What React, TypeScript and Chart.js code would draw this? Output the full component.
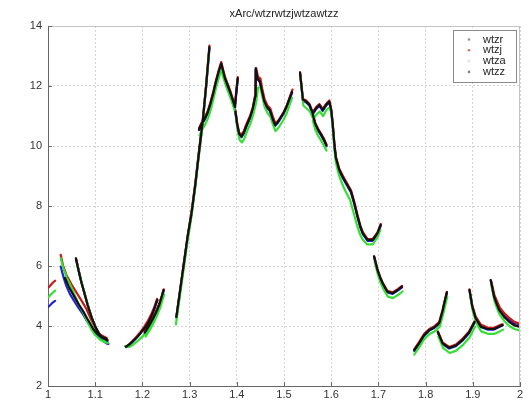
import React, { useEffect, useRef } from "react";
import { Chart, registerables } from "chart.js";

Chart.register(...registerables);

type Pt = [number, number];

const chartTitle = "xArc/wtzrwtzjwtzawtzz";
const seriesNames = ["wtzr", "wtzj", "wtza", "wtzz"];
const seriesColors = ["#2222d6", "#c81818", "#33e033", "#111111"];
const legendDotColors = ["#8a8ab0", "#d07070", "#d8e0d8", "#808080"];
const xTickValues = [1, 1.1, 1.2, 1.3, 1.4, 1.5, 1.6, 1.7, 1.8, 1.9, 2];
const yTickValues = [2, 4, 6, 8, 10, 12, 14];

const wtzzSegments: Pt[][] = [
  [[1.036, 5.6], [1.045, 5.28], [1.054, 5.03], [1.064, 4.75], [1.075, 4.48], [1.083, 4.25], [1.089, 4.09], [1.096, 3.9], [1.103, 3.76], [1.113, 3.64], [1.124, 3.58]],
  [[1.059, 6.26], [1.064, 5.9], [1.07, 5.5], [1.077, 5.1], [1.084, 4.7], [1.092, 4.3], [1.1, 3.98], [1.108, 3.75], [1.116, 3.6], [1.126, 3.52]],
  [[1.165, 3.31], [1.172, 3.38], [1.18, 3.5], [1.19, 3.65], [1.2, 3.84], [1.208, 4.0], [1.216, 4.22], [1.223, 4.48], [1.229, 4.75], [1.232, 4.87]],
  [[1.205, 3.78], [1.213, 3.98], [1.221, 4.2], [1.229, 4.45], [1.236, 4.72], [1.241, 4.98], [1.245, 5.2]],
  [[1.272, 4.3], [1.28, 5.2], [1.288, 6.1], [1.296, 7.0], [1.304, 7.75], [1.312, 8.7], [1.32, 9.8], [1.328, 10.85], [1.335, 12.0], [1.342, 13.3]],
  [[1.32, 10.55], [1.326, 10.75], [1.332, 10.9], [1.338, 11.1], [1.344, 11.4], [1.35, 11.75], [1.356, 12.15], [1.362, 12.5], [1.367, 12.75], [1.371, 12.5], [1.375, 12.25], [1.381, 12.0], [1.387, 11.75], [1.392, 11.5], [1.396, 11.3], [1.399, 11.8], [1.402, 12.26]],
  [[1.397, 11.15], [1.401, 10.7], [1.405, 10.4], [1.41, 10.32], [1.415, 10.45], [1.421, 10.7], [1.428, 10.95], [1.434, 11.25], [1.439, 11.65], [1.44, 12.59], [1.444, 12.25], [1.449, 12.15], [1.453, 11.85], [1.458, 11.5], [1.464, 11.3], [1.47, 11.2], [1.476, 10.9], [1.481, 10.7], [1.487, 10.8], [1.493, 10.95], [1.499, 11.1], [1.505, 11.3], [1.511, 11.55], [1.517, 11.8]],
  [[1.534, 12.44], [1.537, 12.0], [1.54, 11.55], [1.547, 11.48], [1.554, 11.37], [1.561, 11.09], [1.568, 11.26], [1.575, 11.37], [1.582, 11.2], [1.589, 11.37], [1.596, 11.48], [1.6, 11.2], [1.603, 10.76], [1.607, 10.0], [1.61, 9.6], [1.617, 9.2], [1.625, 8.95], [1.632, 8.76], [1.642, 8.48], [1.649, 8.09], [1.656, 7.64], [1.662, 7.3], [1.667, 7.09], [1.677, 6.87], [1.688, 6.87], [1.698, 7.09], [1.705, 7.37]],
  [[1.561, 11.05], [1.566, 10.75], [1.572, 10.55], [1.579, 10.37], [1.585, 10.2], [1.59, 10.02]],
  [[1.691, 6.31], [1.698, 5.87], [1.704, 5.6], [1.709, 5.42], [1.719, 5.14], [1.73, 5.09], [1.741, 5.2], [1.75, 5.31]],
  [[1.776, 3.2], [1.786, 3.42], [1.797, 3.7], [1.808, 3.87], [1.818, 3.95], [1.829, 4.1], [1.836, 4.5], [1.841, 4.85], [1.845, 5.12]],
  [[1.826, 3.8], [1.836, 3.42], [1.85, 3.27], [1.864, 3.35], [1.878, 3.53], [1.892, 3.78], [1.904, 4.14]],
  [[1.893, 5.2], [1.899, 4.64], [1.906, 4.26], [1.917, 3.98], [1.931, 3.9], [1.945, 3.9], [1.956, 3.98], [1.963, 4.03]],
  [[1.938, 5.53], [1.945, 4.98], [1.951, 4.72], [1.956, 4.53], [1.966, 4.31], [1.977, 4.14], [1.987, 4.03], [1.998, 3.98]],
];

const wtzaSegments: Pt[][] = [
  [[1.001, 4.96], [1.005, 5.03], [1.01, 5.11], [1.015, 5.18]],
  [[1.027, 6.26], [1.033, 5.9], [1.04, 5.6], [1.047, 5.38], [1.056, 5.05], [1.066, 4.7], [1.076, 4.4], [1.085, 4.1], [1.092, 3.88], [1.1, 3.7], [1.11, 3.55], [1.12, 3.46], [1.127, 3.44]],
  [[1.061, 6.1], [1.067, 5.7], [1.074, 5.3], [1.081, 4.9], [1.088, 4.5], [1.095, 4.15], [1.103, 3.88], [1.112, 3.66], [1.121, 3.52]],
  [[1.163, 3.33], [1.172, 3.3], [1.182, 3.4], [1.192, 3.53], [1.202, 3.68], [1.212, 3.85], [1.22, 4.05], [1.228, 4.3], [1.233, 4.6]],
  [[1.207, 3.65], [1.215, 3.85], [1.223, 4.08], [1.231, 4.35], [1.238, 4.62], [1.243, 4.9], [1.246, 5.05]],
  [[1.271, 4.05], [1.279, 4.95], [1.287, 5.85], [1.295, 6.75], [1.303, 7.55], [1.311, 8.5], [1.319, 9.6], [1.327, 10.6], [1.334, 11.8], [1.341, 13.1]],
  [[1.321, 10.35], [1.327, 10.55], [1.333, 10.72], [1.339, 10.92], [1.345, 11.22], [1.351, 11.6], [1.357, 12.0], [1.363, 12.32], [1.367, 12.55], [1.371, 12.3], [1.376, 12.05], [1.382, 11.8], [1.388, 11.55], [1.393, 11.3], [1.397, 11.1]],
  [[1.398, 10.95], [1.402, 10.5], [1.406, 10.2], [1.411, 10.12], [1.416, 10.25], [1.422, 10.5], [1.429, 10.75], [1.435, 11.05], [1.441, 11.45], [1.445, 11.95], [1.45, 11.95], [1.454, 11.65], [1.459, 11.3], [1.465, 11.1], [1.471, 10.98], [1.477, 10.7], [1.482, 10.5], [1.488, 10.6], [1.494, 10.75], [1.5, 10.9], [1.506, 11.1], [1.512, 11.38], [1.517, 11.6]],
  [[1.535, 12.3], [1.538, 11.85], [1.541, 11.35], [1.548, 11.25], [1.555, 11.15], [1.562, 10.9], [1.569, 11.05], [1.576, 11.15], [1.583, 11.0], [1.59, 11.2], [1.597, 11.3], [1.601, 11.0], [1.604, 10.5], [1.607, 9.85], [1.61, 9.45], [1.616, 9.05], [1.623, 8.75], [1.63, 8.5], [1.64, 8.2], [1.647, 7.8], [1.654, 7.4], [1.66, 7.1], [1.666, 6.9], [1.676, 6.72], [1.688, 6.72], [1.698, 6.95], [1.704, 7.2]],
  [[1.561, 10.85], [1.566, 10.55], [1.572, 10.35], [1.579, 10.17], [1.585, 10.0], [1.59, 9.85]],
  [[1.692, 6.15], [1.699, 5.7], [1.705, 5.42], [1.71, 5.25], [1.72, 4.98], [1.731, 4.93], [1.742, 5.04], [1.751, 5.15]],
  [[1.776, 3.05], [1.786, 3.28], [1.797, 3.56], [1.808, 3.73], [1.819, 3.82], [1.83, 3.98], [1.837, 4.38], [1.842, 4.72], [1.846, 4.98]],
  [[1.827, 3.65], [1.837, 3.27], [1.851, 3.1], [1.865, 3.18], [1.879, 3.37], [1.893, 3.62], [1.905, 3.98]],
  [[1.894, 5.05], [1.9, 4.5], [1.907, 4.1], [1.918, 3.82], [1.932, 3.74], [1.946, 3.74], [1.957, 3.82], [1.964, 3.88]],
  [[1.939, 5.38], [1.946, 4.82], [1.952, 4.56], [1.957, 4.38], [1.967, 4.16], [1.978, 3.99], [1.988, 3.9], [1.998, 3.86]],
];

const wtzjSegments: Pt[][] = [
  [[1.001, 5.28], [1.005, 5.35], [1.01, 5.44], [1.015, 5.51]],
  [[1.027, 6.37], [1.032, 6.0], [1.039, 5.7], [1.05, 5.38], [1.061, 5.1], [1.072, 4.82], [1.082, 4.55], [1.091, 4.22], [1.099, 3.98], [1.11, 3.72], [1.124, 3.6]],
  [[1.06, 6.22], [1.065, 5.85], [1.071, 5.45], [1.078, 5.05], [1.085, 4.66], [1.093, 4.27], [1.101, 3.96], [1.109, 3.74], [1.117, 3.6], [1.126, 3.54]],
  [[1.167, 3.33], [1.176, 3.45], [1.186, 3.62], [1.196, 3.8], [1.204, 3.98], [1.212, 4.18], [1.219, 4.4], [1.225, 4.62], [1.231, 4.9]],
  [[1.205, 3.82], [1.213, 4.02], [1.221, 4.25], [1.229, 4.5], [1.236, 4.76], [1.241, 5.0], [1.245, 5.22]],
  [[1.272, 4.32], [1.28, 5.22], [1.288, 6.12], [1.296, 7.02], [1.304, 7.8], [1.312, 8.75], [1.32, 9.85], [1.328, 10.9], [1.335, 12.05], [1.342, 13.35]],
  [[1.32, 10.6], [1.326, 10.8], [1.332, 10.95], [1.338, 11.15], [1.344, 11.45], [1.35, 11.8], [1.356, 12.2], [1.362, 12.55], [1.367, 12.8], [1.371, 12.55], [1.375, 12.3], [1.381, 12.05], [1.387, 11.8], [1.392, 11.55], [1.396, 11.35], [1.399, 11.85], [1.402, 12.3]],
  [[1.397, 11.2], [1.401, 10.75], [1.405, 10.45], [1.41, 10.38], [1.415, 10.5], [1.421, 10.75], [1.428, 11.0], [1.434, 11.3], [1.439, 11.7], [1.441, 12.6], [1.445, 12.3], [1.45, 12.25], [1.454, 11.9], [1.459, 11.55], [1.465, 11.35], [1.471, 11.25], [1.477, 10.95], [1.482, 10.75], [1.488, 10.85], [1.494, 11.0], [1.5, 11.15], [1.506, 11.35], [1.512, 11.62], [1.518, 11.88]],
  [[1.534, 12.46], [1.537, 12.03], [1.54, 11.58], [1.547, 11.52], [1.554, 11.4], [1.561, 11.12], [1.568, 11.3], [1.575, 11.4], [1.582, 11.24], [1.589, 11.4], [1.596, 11.52], [1.6, 11.24], [1.603, 10.8], [1.607, 10.05], [1.61, 9.65], [1.617, 9.25], [1.625, 9.0], [1.632, 8.8], [1.642, 8.52], [1.649, 8.13], [1.656, 7.68], [1.662, 7.34], [1.667, 7.13], [1.677, 6.9], [1.688, 6.9], [1.698, 7.12], [1.705, 7.4]],
  [[1.561, 11.08], [1.566, 10.78], [1.572, 10.58], [1.579, 10.4], [1.585, 10.23], [1.59, 10.05]],
  [[1.691, 6.33], [1.698, 5.9], [1.704, 5.63], [1.709, 5.45], [1.719, 5.17], [1.73, 5.12], [1.741, 5.23], [1.75, 5.34]],
  [[1.776, 3.22], [1.786, 3.46], [1.797, 3.74], [1.808, 3.9], [1.818, 3.98], [1.829, 4.14], [1.836, 4.54], [1.841, 4.88], [1.845, 5.14]],
  [[1.826, 3.82], [1.836, 3.45], [1.85, 3.3], [1.864, 3.38], [1.878, 3.57], [1.892, 3.82], [1.904, 4.17]],
  [[1.893, 5.22], [1.899, 4.68], [1.906, 4.32], [1.917, 4.05], [1.931, 3.95], [1.945, 3.94], [1.956, 4.02], [1.963, 4.06]],
  [[1.939, 5.5], [1.946, 5.02], [1.952, 4.8], [1.957, 4.62], [1.967, 4.42], [1.978, 4.26], [1.988, 4.14], [1.998, 4.08]],
];

const wtzrSegments: Pt[][] = [
  [[1.001, 4.64], [1.005, 4.7], [1.01, 4.78], [1.015, 4.84]],
  [[1.027, 5.98], [1.033, 5.62], [1.039, 5.33], [1.046, 5.08], [1.054, 4.87], [1.064, 4.62], [1.075, 4.37], [1.085, 4.1], [1.096, 3.87], [1.104, 3.7], [1.113, 3.55], [1.124, 3.42], [1.128, 3.4]],
  [[1.06, 6.2], [1.065, 5.85], [1.071, 5.45], [1.078, 5.05], [1.085, 4.65], [1.093, 4.25], [1.101, 3.94], [1.109, 3.7], [1.117, 3.55], [1.126, 3.47]],
  [[1.166, 3.3], [1.175, 3.4], [1.185, 3.56], [1.195, 3.74], [1.204, 3.92], [1.212, 4.1], [1.219, 4.33], [1.226, 4.6], [1.231, 4.85]],
  [[1.205, 3.76], [1.213, 3.96], [1.221, 4.18], [1.229, 4.43], [1.236, 4.7], [1.241, 4.96], [1.245, 5.18]],
  [[1.272, 4.28], [1.28, 5.18], [1.288, 6.08], [1.296, 6.98], [1.304, 7.73], [1.312, 8.68], [1.32, 9.78], [1.328, 10.82], [1.335, 11.97], [1.342, 13.25]],
  [[1.32, 10.53], [1.326, 10.73], [1.332, 10.88], [1.338, 11.08], [1.344, 11.38], [1.35, 11.72], [1.356, 12.12], [1.362, 12.47], [1.367, 12.72], [1.371, 12.47], [1.375, 12.22], [1.381, 11.97], [1.387, 11.72], [1.392, 11.47], [1.396, 11.27], [1.399, 11.77], [1.402, 12.22]],
  [[1.397, 11.12], [1.401, 10.67], [1.405, 10.37], [1.41, 10.29], [1.415, 10.42], [1.421, 10.67], [1.428, 10.92], [1.434, 11.22], [1.439, 11.62], [1.44, 12.55], [1.444, 12.22], [1.449, 12.12], [1.453, 11.82], [1.458, 11.47], [1.464, 11.27], [1.47, 11.17], [1.476, 10.87], [1.481, 10.67], [1.487, 10.77], [1.493, 10.92], [1.499, 11.07], [1.505, 11.27], [1.511, 11.52], [1.517, 11.77]],
  [[1.534, 12.42], [1.537, 11.98], [1.54, 11.52], [1.547, 11.45], [1.554, 11.34], [1.561, 11.06], [1.568, 11.23], [1.575, 11.34], [1.582, 11.17], [1.589, 11.34], [1.596, 11.45], [1.6, 11.17], [1.603, 10.73], [1.607, 9.97], [1.61, 9.57], [1.617, 9.17], [1.625, 8.92], [1.632, 8.73], [1.642, 8.45], [1.649, 8.06], [1.656, 7.61], [1.662, 7.27], [1.667, 7.06], [1.677, 6.84], [1.688, 6.84], [1.698, 7.06], [1.705, 7.34]],
  [[1.561, 11.02], [1.566, 10.72], [1.572, 10.52], [1.579, 10.34], [1.585, 10.17], [1.59, 9.99]],
  [[1.691, 6.29], [1.698, 5.85], [1.704, 5.58], [1.709, 5.4], [1.719, 5.12], [1.73, 5.07], [1.741, 5.18], [1.75, 5.29]],
  [[1.776, 3.17], [1.786, 3.4], [1.797, 3.68], [1.808, 3.85], [1.818, 3.93], [1.829, 4.08], [1.836, 4.48], [1.841, 4.83], [1.845, 5.1]],
  [[1.826, 3.78], [1.836, 3.4], [1.85, 3.25], [1.864, 3.33], [1.878, 3.51], [1.892, 3.76], [1.904, 4.12]],
  [[1.893, 5.18], [1.899, 4.62], [1.906, 4.24], [1.917, 3.97], [1.931, 3.88], [1.945, 3.88], [1.956, 3.97], [1.963, 4.02]],
  [[1.938, 5.52], [1.945, 4.98], [1.951, 4.74], [1.956, 4.56], [1.966, 4.36], [1.977, 4.2], [1.987, 4.1], [1.998, 4.06]],
];

const allSegments = [wtzrSegments, wtzjSegments, wtzaSegments, wtzzSegments];

function toPoints(segs: Pt[][]) {
  const out: { x: number; y: number | null }[] = [];
  segs.forEach((seg, i) => {
    if (i > 0) out.push({ x: seg[0][0], y: null });
    seg.forEach(([x, y]) => out.push({ x, y }));
  });
  return out;
}

const FONT = "'Liberation Sans', Arial, sans-serif";

const decorPlugin = {
  id: "decor",
  afterDraw(chart: any) {
    const { ctx, chartArea: a, scales } = chart;
    ctx.save();
    ctx.strokeStyle = "#c4c4c4";
    ctx.lineWidth = 1;
    ctx.beginPath();
    ctx.moveTo(a.left, a.top + 0.5);
    ctx.lineTo(a.right, a.top + 0.5);
    ctx.moveTo(a.right - 0.5, a.top);
    ctx.lineTo(a.right - 0.5, a.bottom);
    ctx.stroke();
    ctx.strokeStyle = "#666";
    ctx.beginPath();
    xTickValues.forEach((v) => {
      const px = Math.round(scales.x.getPixelForValue(v)) + 0.5;
      ctx.moveTo(px, a.bottom);
      ctx.lineTo(px, a.bottom - 4);
    });
    yTickValues.forEach((v) => {
      const py = Math.round(scales.y.getPixelForValue(v)) + 0.5;
      ctx.moveTo(a.left, py);
      ctx.lineTo(a.left + 4, py);
    });
    ctx.stroke();
    ctx.fillStyle = "#222";
    ctx.font = `11px ${FONT}`;
    ctx.textAlign = "center";
    ctx.textBaseline = "middle";
    ctx.fillText(chartTitle, (a.left + a.right) / 2, 14);
    const bx = 453, by = 30, bw = 63, bh = 52;
    ctx.fillStyle = "#fff";
    ctx.fillRect(bx, by, bw, bh);
    ctx.strokeStyle = "#8a8a8a";
    ctx.strokeRect(bx + 0.5, by + 0.5, bw, bh);
    seriesNames.forEach((name, i) => {
      const cy = by + 9.5 + i * 10.8;
      ctx.fillStyle = legendDotColors[i];
      ctx.beginPath();
      ctx.arc(469, cy, 1.3, 0, Math.PI * 2);
      ctx.fill();
      ctx.fillStyle = "#222";
      ctx.textAlign = "left";
      ctx.fillText(name, 483, cy);
    });
    ctx.restore();
  },
};

export default function App() {
  const ref = useRef<HTMLCanvasElement | null>(null);
  useEffect(() => {
    if (!ref.current) return;
    const chart = new Chart(ref.current, {
      type: "line",
      data: {
        datasets: allSegments.map((segs, i) => ({
          label: seriesNames[i],
          data: toPoints(segs),
          borderColor: seriesColors[i],
          backgroundColor: seriesColors[i],
          borderWidth: 2.2,
          pointRadius: 0,
          tension: 0,
          spanGaps: false,
          borderCapStyle: "round",
          borderJoinStyle: "round",
          order: 4 - i,
        })) as any,
      },
      options: {
        animation: false,
        responsive: false,
        devicePixelRatio: 1,
        layout: { padding: { top: 26, right: 11, left: 0, bottom: 0 } },
        plugins: { legend: { display: false }, tooltip: { enabled: false }, title: { display: false } },
        scales: {
          x: {
            type: "linear",
            min: 1,
            max: 2,
            afterFit: (s: any) => { s.height = 16; },
            afterBuildTicks: (s: any) => { s.ticks = xTickValues.map((v) => ({ value: v })); },
            ticks: {
              autoSkip: false,
              maxRotation: 0,
              padding: 2,
              color: "#333",
              font: { family: FONT, size: 11 },
              callback: (v: any) => String(Math.round(Number(v) * 10) / 10),
            },
            grid: { color: "#d4d4d4", drawTicks: false, lineWidth: 1 },
            border: { color: "#666", width: 1, dash: [2, 2] },
          },
          y: {
            type: "linear",
            min: 2,
            max: 14,
            afterFit: (s: any) => { s.width = 48; },
            afterBuildTicks: (s: any) => { s.ticks = yTickValues.map((v) => ({ value: v })); },
            ticks: {
              padding: 6,
              color: "#333",
              font: { family: FONT, size: 11 },
            },
            grid: { color: "#d4d4d4", drawTicks: false, lineWidth: 1 },
            border: { color: "#666", width: 1, dash: [2, 2] },
          },
        },
      },
      plugins: [decorPlugin],
    });
    return () => chart.destroy();
  }, []);
  return (
    <div style={{ position: "fixed", left: 0, top: 0, width: 531, height: 402, background: "#fff" }}>
      <canvas ref={ref} width={531} height={402} style={{ display: "block" }} />
    </div>
  );
}
